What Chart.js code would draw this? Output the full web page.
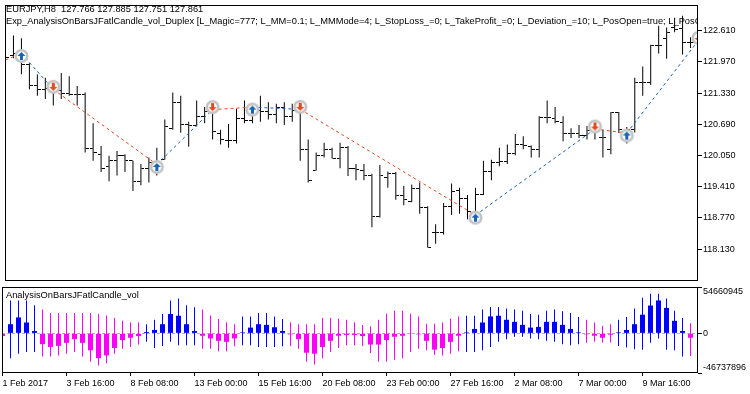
<!DOCTYPE html>
<html><head><meta charset="utf-8">
<script src="https://cdn.jsdelivr.net/npm/chart.js@4.4.1/dist/chart.umd.min.js"></script>
<style>html,body{margin:0;padding:0;background:#fff;}#wrap{position:relative;width:750px;height:394px;}canvas{position:absolute;left:0;}</style>
</head><body>
<div id="wrap">
<canvas id="main" width="750" height="286" style="top:0;width:750px;height:286px"></canvas>
<canvas id="ind" width="750" height="108" style="top:286px;width:750px;height:108px"></canvas>
</div>
<script>
// ---------- data ----------
const header1 = 'EURJPY,H8  127.766 127.885 127.751 127.861';
const header2 = 'Exp_AnalysisOnBarsJFatlCandle_vol_Duplex [L_Magic=777; L_MM=0.1; L_MMMode=4; L_StopLoss_=0; L_TakeProfit_=0; L_Deviation_=10; L_PosOpen=true; L_PosClose=true]';
const indName = 'AnalysisOnBarsJFatlCandle_vol';

const priceTicks = [118.130, 118.770, 119.410, 120.050, 120.690, 121.330, 121.970, 122.610];
const timeTickBars = [0, 8, 16, 24, 32, 40, 48, 56, 64, 72, 80];
const timeTickLabels = ['1 Feb 2017','3 Feb 16:00','8 Feb 08:00','13 Feb 00:00','15 Feb 16:00','20 Feb 08:00','23 Feb 00:00','27 Feb 16:00','2 Mar 08:00','7 Mar 00:00','9 Mar 16:00'];

const open = [122.010,122.096,122.136,121.922,121.476,121.396,121.416,121.376,121.316,121.310,
121.310,120.190,120.076,119.816,119.942,120.042,119.942,119.510,119.776,119.756,
119.976,120.610,121.142,120.676,120.656,120.842,120.942,120.496,120.362,120.362,
120.810,120.776,120.976,120.942,120.896,121.042,120.856,121.116,120.176,119.742,
120.042,120.176,119.990,120.210,119.790,119.742,119.630,118.790,119.590,119.676,
119.230,119.110,119.376,118.976,118.462,118.462,119.010,119.322,119.176,118.842,
119.242,119.722,119.896,119.922,120.096,120.276,120.236,120.176,120.830,120.810,
120.722,120.496,120.510,120.456,120.556,120.410,120.176,120.922,120.516,120.576,
121.556,121.556,122.310,122.456,122.676,122.656,122.376];
const high = [122.096,122.510,122.456,121.942,121.710,121.642,121.576,121.742,121.676,121.476,
121.342,120.710,120.242,120.042,120.142,120.076,119.942,119.876,120.010,120.210,
120.790,121.342,121.276,120.742,121.176,121.042,121.042,120.576,120.696,121.010,
121.176,121.110,121.276,121.142,121.110,121.142,121.110,121.176,120.376,120.110,
120.310,120.210,120.310,120.242,119.876,119.876,119.676,119.856,119.722,119.710,
119.422,119.456,119.496,119.010,118.642,119.076,119.476,119.390,119.242,119.390,
119.942,119.962,120.210,120.276,120.490,120.442,120.256,120.856,121.176,121.042,
120.856,120.610,120.676,120.656,120.776,120.576,120.942,120.942,120.636,121.642,
121.876,122.322,122.710,122.676,122.876,122.916,122.476];
const low = [121.936,122.042,121.716,121.410,121.276,121.210,121.076,121.210,121.276,121.076,
120.110,119.942,119.710,119.522,119.642,119.710,119.322,119.442,119.496,119.642,
119.962,120.576,120.516,120.230,120.642,120.710,120.376,120.276,120.210,120.296,
120.710,120.710,120.742,120.790,120.710,120.676,120.742,119.942,119.496,119.742,
120.010,119.990,119.790,119.630,119.542,119.542,118.576,118.776,119.390,119.142,
119.030,119.090,118.856,118.162,118.242,118.430,118.830,118.856,118.742,118.742,
119.242,119.542,119.830,119.876,120.056,120.176,120.010,120.010,120.710,120.710,
120.342,120.410,120.410,120.376,120.376,120.010,120.076,120.510,120.296,120.522,
121.276,121.496,122.142,122.036,122.576,122.122,122.256];
const close = [122.056,122.136,121.922,121.476,121.396,121.416,121.376,121.316,121.310,121.310,
120.190,120.110,119.776,119.942,120.042,119.942,119.510,119.776,119.910,119.876,
120.642,121.142,120.676,120.656,120.842,120.942,120.542,120.376,120.362,120.810,
120.776,120.976,120.942,120.896,121.042,120.856,120.976,120.176,119.542,120.042,
120.176,119.990,120.210,119.790,119.756,119.630,118.790,119.630,119.676,119.230,
119.142,119.376,118.976,118.162,118.462,119.010,119.310,119.176,118.896,119.242,
119.722,119.896,119.922,120.096,120.276,120.256,120.176,120.830,120.830,120.742,
120.496,120.510,120.456,120.556,120.616,120.410,120.922,120.576,120.576,121.556,
121.556,122.310,122.310,122.576,122.642,122.376,122.376];

// trade deals (bar index, price) and side of the arrow shown there
const dealBars   = [0, 2, 6, 19, 26, 31, 37, 59, 74, 78, 87];
const dealPrices = [122.010,122.142,121.406,119.866,120.990,121.042,120.996,118.826,120.592,120.510,122.410];
const dealSides  = ['', 'buy','sell','buy','sell','buy','sell','buy','sell','buy','sell'];

// indicator candles (millions); body drawn from the zero level to the close value
const indClose = [-3.2,10.8,18.8,12.8,2.8,-12.8,-16.0,-14.8,-11.2,-6.8,
-11.2,-20.0,-29.2,-26.0,-17.2,-8.0,-5.2,-3.2,1.6,4.0,
10.8,22.8,20.8,10.8,2.8,-2.8,-6.0,-8.8,-10.0,-6.0,
1.2,6.8,10.8,10.0,7.2,2.8,-1.2,-6.8,-22.8,-24.0,
-16.0,-8.8,-2.8,-2.0,-2.0,-3.2,-13.2,-13.2,-8.0,-4.0,
-2.8,-0.8,-1.2,-8.8,-19.2,-17.2,-10.0,-2.8,1.2,5.2,
12.8,20.0,20.8,16.0,13.6,10.0,6.8,7.6,13.6,13.6,
10.0,5.2,1.2,-1.2,-2.8,-5.2,-1.6,1.2,4.0,10.8,
22.0,32.8,38.8,30.0,14.8,2.8,-5.2];
const indHigh = [2.0,38.8,38.8,38.8,33.2,28.0,24.0,24.0,24.0,24.0,
24.0,24.0,22.8,21.2,18.0,14.8,13.2,13.2,10.8,16.0,
22.8,38.8,41.2,33.2,30.8,28.0,21.2,16.8,13.2,10.8,
20.0,20.0,24.0,24.0,20.0,16.8,13.2,10.8,10.8,10.8,
18.0,18.0,17.2,16.0,13.2,10.0,8.0,16.0,23.2,26.8,
26.8,23.2,20.0,11.2,11.2,12.8,17.2,20.0,20.8,20.8,
28.0,31.2,31.2,29.2,28.0,26.8,22.8,22.0,26.8,28.0,
26.0,24.0,19.2,16.0,12.8,8.8,10.8,16.0,19.2,29.2,
42.0,46.8,46.8,41.2,26.8,18.0,12.0];
const indLow = [-6.0,-29.2,-24.0,-22.0,-22.0,-27.2,-27.2,-26.0,-24.0,-22.0,
-27.2,-33.2,-38.0,-35.2,-24.0,-18.0,-16.0,-13.2,-10.0,-17.2,
-14.8,-10.0,-14.0,-14.0,-14.0,-18.0,-18.0,-21.2,-21.2,-15.2,
-14.0,-14.0,-16.0,-16.0,-16.0,-15.2,-14.8,-18.0,-33.2,-36.8,
-29.2,-22.0,-17.2,-14.0,-14.0,-14.8,-23.2,-33.2,-33.2,-31.2,
-29.2,-22.0,-18.0,-20.0,-25.2,-26.0,-24.0,-21.2,-22.0,-22.0,
-20.0,-16.0,-10.0,-6.8,-4.0,-4.0,-6.0,-6.8,-8.8,-10.0,
-12.8,-14.0,-12.8,-11.2,-10.0,-10.8,-10.8,-14.8,-16.8,-18.8,
-19.2,-11.2,-6.0,-19.2,-20.0,-27.2,-26.8];
const indMax = 54660945, indMin = -46737896;
const M = 1e6;

// ---------- style ----------
const FONT = '"Liberation Sans", Arial, sans-serif';
const RED = '#e8461e', BLUE = '#1464b4';
const UP = '#0000ff', DOWN = '#ff00ff';
const X_MIN = -0.0625, X_MAX = 86.9375;
Chart.defaults.font.family = FONT;
Chart.defaults.font.size = 9;
Chart.defaults.color = '#000';

function tickImg(left) {
  const c = document.createElement('canvas'); c.width = 7; c.height = 1;
  const g = c.getContext('2d'); g.fillStyle = '#000'; g.fillRect(left ? 0 : 4, 0, 3, 1);
  return c;
}
function markerImg(kind) {
  const c = document.createElement('canvas'); c.width = 17; c.height = 23;
  const g = c.getContext('2d');
  const d = kind === 'buy' ? 1 : -1;
  const cx = 8.5, cy = 11.5 + 2.5 * d;
  g.beginPath(); g.arc(cx, cy, 5.8, 0, Math.PI * 2);
  g.fillStyle = '#fff'; g.fill();
  g.lineWidth = 2.6; g.strokeStyle = '#c3c3c3'; g.stroke();
  g.fillStyle = kind === 'buy' ? BLUE : RED;
  g.beginPath();
  g.moveTo(cx, cy - 4 * d); g.lineTo(cx + 4, cy); g.lineTo(cx + 1.5, cy);
  g.lineTo(cx + 1.5, cy + 4 * d); g.lineTo(cx - 1.5, cy + 4 * d);
  g.lineTo(cx - 1.5, cy); g.lineTo(cx - 4, cy); g.closePath(); g.fill();
  return c;
}

function frame(chart) {
  const {ctx, chartArea: a} = chart;
  ctx.save(); ctx.strokeStyle = '#000'; ctx.lineWidth = 1;
  ctx.strokeRect(a.left + 0.5, a.top + 0.5, a.right - a.left - 1, a.bottom - a.top - 1);
  ctx.restore();
}
function noPad(s) { s.paddingTop = 0; s.paddingBottom = 0; s.paddingLeft = 0; s.paddingRight = 0; }

// ---------- main price chart ----------
const idx = open.map((_, i) => i);
const mainPlugin = {
  id: 'mainDeco',
  beforeDatasetsDraw(chart) {
    const {ctx, chartArea: a} = chart;
    ctx.save();
    ctx.beginPath(); ctx.rect(a.left, a.top, a.right - a.left - 1, a.bottom - a.top); ctx.clip();
    ctx.fillStyle = '#000'; ctx.font = '9.3px ' + FONT; ctx.textBaseline = 'middle'; ctx.textAlign = 'left';
    ctx.fillText(header1, 6, 9);
    ctx.fillText(header2, 6, 21.5);
    ctx.restore();
  },
  afterDraw(chart) { frame(chart); }
};

new Chart(document.getElementById('main'), {
  type: 'line',
  data: {
    datasets: [
      { type: 'line', order: 0, showLine: false, clip: 0,
        data: dealBars.map((b, i) => ({x: b, y: dealPrices[i]})).filter((p, i) => dealSides[i] === 'buy'),
        pointStyle: markerImg('buy'), pointRadius: 3 },
      { type: 'line', order: 0, showLine: false, clip: 0,
        data: dealBars.map((b, i) => ({x: b, y: dealPrices[i]})).filter((p, i) => dealSides[i] === 'sell'),
        pointStyle: markerImg('sell'), pointRadius: 3 },
      { type: 'line', order: 1, clip: 0,
        data: dealBars.map((b, i) => ({x: b, y: dealPrices[i]})),
        borderWidth: 1, borderDash: [3, 3], pointRadius: 0, tension: 0,
        borderColor: RED,
        segment: { borderColor: c => (c.p0DataIndex % 2 === 0 ? RED : BLUE) } },
      { type: 'line', order: 2, showLine: false,
        data: idx.map(i => ({x: i, y: open[i]})), pointStyle: tickImg(true), pointRadius: 1 },
      { type: 'line', order: 2, showLine: false,
        data: idx.map(i => ({x: i, y: close[i]})), pointStyle: tickImg(false), pointRadius: 1 },
      { type: 'bar', order: 3, grouped: false, barThickness: 1, inflateAmount: 0,
        backgroundColor: '#000', borderWidth: 0,
        data: idx.map(i => ({x: i, y: [low[i], high[i]]})) }
    ]
  },
  options: {
    responsive: false, animation: false, devicePixelRatio: 1, events: [],
    layout: { padding: { left: 2, right: 0, top: 2, bottom: 1 } },
    plugins: { legend: { display: false }, tooltip: { enabled: false } },
    scales: {
      x: { type: 'linear', min: X_MIN, max: X_MAX, display: false, offset: false, grid: { offset: false } },
      y: { type: 'linear', position: 'right', min: 117.476, max: 123.136,
        afterBuildTicks: s => { s.ticks = priceTicks.map(v => ({value: v})); },
        afterFit: s => { s.width = 52; noPad(s); },
        ticks: { callback: v => Number(v).toFixed(3), padding: 1, color: '#000', font: { size: 9, family: FONT } },
        grid: { drawOnChartArea: false, drawTicks: true, tickLength: 4, color: '#000' },
        border: { display: false } }
    }
  },
  plugins: [mainPlugin]
});

// ---------- indicator sub-window ----------
const indPlugin = {
  id: 'indDeco',
  beforeDatasetsDraw(chart) {
    const {ctx, chartArea: a, scales} = chart;
    const y0 = Math.round(scales.y.getPixelForValue(0)) + 0.5;
    ctx.save(); ctx.strokeStyle = '#b4b4b4'; ctx.lineWidth = 1; ctx.setLineDash([3, 2]);
    ctx.beginPath(); ctx.moveTo(a.left, y0); ctx.lineTo(a.right, y0); ctx.stroke();
    ctx.restore();
  },
  afterDraw(chart) {
    frame(chart);
    const {ctx, chartArea: a, scales} = chart;
    ctx.save(); ctx.fillStyle = '#000'; ctx.textBaseline = 'middle'; ctx.textAlign = 'left';
    ctx.font = '9px ' + FONT;
    ctx.fillText(String(Math.round(scales.y.max)), a.right + 5, a.top + 4.8);
    ctx.fillText('0', a.right + 5, scales.y.getPixelForValue(0));
    ctx.fillText(String(Math.round(scales.y.min)), a.right + 5, a.bottom - 5.2);
    ctx.font = '9.3px ' + FONT;
    ctx.fillText(indName, 6, 9.5);
    ctx.restore();
  }
};

const candleColors = indClose.map(v => (v >= 0 ? UP : DOWN));
new Chart(document.getElementById('ind'), {
  type: 'bar',
  data: {
    datasets: [
      { type: 'bar', order: 0, grouped: false, barThickness: 5, inflateAmount: 0, borderWidth: 0,
        backgroundColor: candleColors,
        data: idx.map(i => ({x: i, y: [0, indClose[i] * M]})) },
      { type: 'bar', order: 1, grouped: false, barThickness: 1, inflateAmount: 0, borderWidth: 0,
        backgroundColor: candleColors,
        data: idx.map(i => ({x: i, y: [indLow[i] * M, indHigh[i] * M]})) }
    ]
  },
  options: {
    responsive: false, animation: false, devicePixelRatio: 1, events: [],
    layout: { padding: { left: 2, right: 0, top: 1, bottom: 0 } },
    plugins: { legend: { display: false }, tooltip: { enabled: false } },
    scales: {
      x: { type: 'linear', min: X_MIN, max: X_MAX, position: 'bottom', offset: false,
        afterBuildTicks: s => { s.ticks = timeTickBars.map(v => ({value: v})); },
        afterFit: s => { s.height = 21; noPad(s); },
        ticks: { callback: (v, i) => timeTickLabels[i], align: 'start', maxRotation: 0, autoSkip: false,
                 padding: 2, color: '#000', font: { size: 9, family: FONT } },
        grid: { offset: false, drawOnChartArea: false, drawTicks: true, tickLength: 3, color: '#000' },
        border: { display: false } },
      y: { type: 'linear', position: 'right', min: indMin, max: indMax,
        afterBuildTicks: s => { s.ticks = [indMin, 0, indMax].map(v => ({value: v})); },
        afterFit: s => { s.width = 52; noPad(s); },
        ticks: { display: false },
        grid: { drawOnChartArea: false, drawTicks: true, tickLength: 4, color: '#000' },
        border: { display: false } }
    }
  },
  plugins: [indPlugin]
});
</script>
</body></html>
